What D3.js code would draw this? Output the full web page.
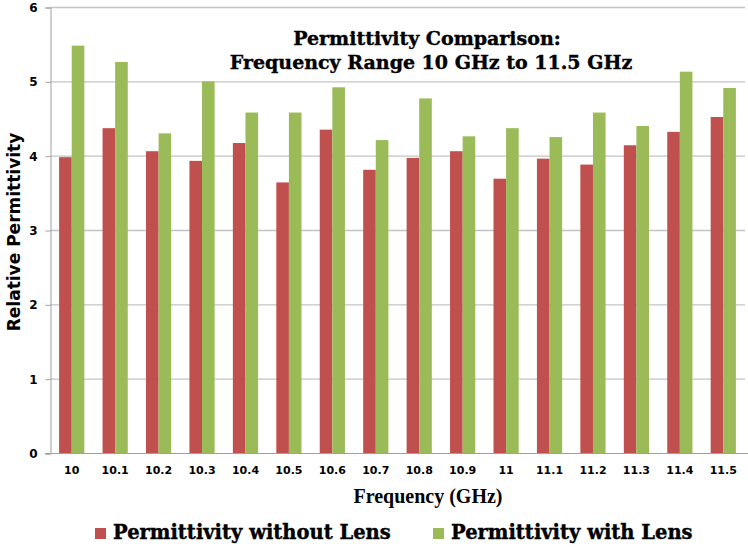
<!DOCTYPE html>
<html>
<head>
<meta charset="utf-8">
<script src="https://cdn.jsdelivr.net/npm/d3@7"></script>
<style>
  body { margin: 0; background: #fff; }
  svg { display: block; }
</style>
</head>
<body>
<svg id="chart" width="748" height="548"></svg>
<script>
// values
const frequencies = ['10', '10.1', '10.2', '10.3', '10.4', '10.5', '10.6', '10.7',
  '10.8', '10.9', '11', '11.1', '11.2', '11.3', '11.4', '11.5'];
const withoutLens = [3.98, 4.37, 4.06, 3.93, 4.17, 3.64, 4.35, 3.81,
  3.97, 4.06, 3.69, 3.96, 3.88, 4.14, 4.32, 4.52];
const withLens = [5.48, 5.26, 4.30, 5.00, 4.58, 4.58, 4.92, 4.21,
  4.77, 4.26, 4.37, 4.25, 4.58, 4.40, 5.13, 4.91];
const seriesNames = ['Permittivity without Lens', 'Permittivity with Lens'];
const seriesColors = ['#C0504D', '#9BBB59'];
const yTicks = [0, 1, 2, 3, 4, 5, 6];

const margin = { top: 7, right: 3, bottom: 95, left: 50 };
const width = 748;
const height = 548;

const svg = d3.select('#chart');

const rows = frequencies.map((f, i) => ({ f, vals: [withoutLens[i], withLens[i]] }));

const x0 = d3.scaleBand()
  .domain(frequencies)
  .range([margin.left, width - margin.right])
  .paddingInner(0.42)
  .paddingOuter(0.21);

const x1 = d3.scaleBand()
  .domain([0, 1])
  .range([0, x0.bandwidth()]);

const y = d3.scaleLinear()
  .domain([0, 6])
  .range([height - margin.bottom, margin.top]);

// gridlines
svg.append('g')
  .selectAll('line')
  .data(yTicks.filter(d => d > 0))
  .enter().append('line')
  .attr('x1', margin.left)
  .attr('x2', width - margin.right)
  .attr('y1', d => y(d) + 0.5)
  .attr('y2', d => y(d) + 0.5)
  .style('stroke', '#c4c4c4')
  .style('stroke-width', 1.3);

// bars
const groups = svg.append('g')
  .selectAll('g')
  .data(rows)
  .enter().append('g')
  .attr('transform', d => `translate(${x0(d.f)},0)`);

groups.selectAll('rect')
  .data(d => d.vals)
  .enter().append('rect')
  .attr('x', (d, i) => x1(i))
  .attr('width', x1.bandwidth())
  .attr('y', d => y(d))
  .attr('height', d => y(0) - y(d))
  .attr('fill', (d, i) => seriesColors[i]);

// y axis
const yAxis = d3.axisLeft(y).tickValues(yTicks).tickFormat(d3.format('d')).tickSize(5).tickPadding(8);
const gY = svg.append('g')
  .attr('transform', `translate(${margin.left + 0.5},0.5)`)
  .call(yAxis);
gY.select('.domain').style('stroke', '#a0a0a0');
gY.selectAll('.tick line').style('stroke', '#a0a0a0');
gY.selectAll('.tick text')
  .style('font-family', 'DejaVu Sans')
  .style('font-weight', 'bold')
  .style('font-size', '12px')
  .attr('fill', '#000');

// x axis
const xAxis = d3.axisBottom(x0).tickSize(0).tickPadding(13);
const gX = svg.append('g')
  .attr('transform', `translate(0,${y(0) + 0.5})`)
  .call(xAxis);
gX.select('.domain').attr('d', `M${margin.left - 5},0H${width}`).style('stroke', '#a0a0a0');
gX.selectAll('.tick text')
  .style('font-family', 'DejaVu Sans')
  .style('font-weight', 'bold')
  .style('font-size', '11px')
  .attr('fill', '#000');

// title
const title = svg.append('text')
  .attr('text-anchor', 'middle')
  .style('font-family', 'DejaVu Serif')
  .style('font-weight', 'bold')
  .style('font-size', '19px')
  .style('stroke', '#000')
  .style('stroke-width', 0.4);
title.append('tspan').attr('x', 427).attr('y', 45).text('Permittivity Comparison:');
title.append('tspan').attr('x', 431).attr('y', 69).text('Frequency Range 10 GHz to 11.5 GHz');

// axis titles
svg.append('text')
  .attr('transform', `translate(20,${(y(0) + y(6)) / 2 + 2}) rotate(-90)`)
  .attr('text-anchor', 'middle')
  .style('font-family', 'DejaVu Sans')
  .style('font-weight', 'bold')
  .style('font-size', '17px')
  .text('Relative Permittivity');

svg.append('text')
  .attr('x', 428)
  .attr('y', 503)
  .attr('text-anchor', 'middle')
  .style('font-family', 'Liberation Serif')
  .style('font-weight', 'bold')
  .style('font-size', '20px')
  .text('Frequency (GHz)');

// legend
const legendX = [95, 433];
const legend = svg.append('g')
  .selectAll('g')
  .data(seriesNames)
  .enter().append('g')
  .attr('transform', (d, i) => `translate(${legendX[i]},528)`);
legend.append('rect')
  .attr('width', 11)
  .attr('height', 11)
  .attr('fill', (d, i) => seriesColors[i]);
legend.append('text')
  .attr('x', 18)
  .attr('y', 11)
  .style('font-family', 'DejaVu Serif')
  .style('font-weight', 'bold')
  .style('font-size', '19.5px')
  .style('stroke', '#000')
  .style('stroke-width', 0.4)
  .text(d => d);
</script>
</body>
</html>
